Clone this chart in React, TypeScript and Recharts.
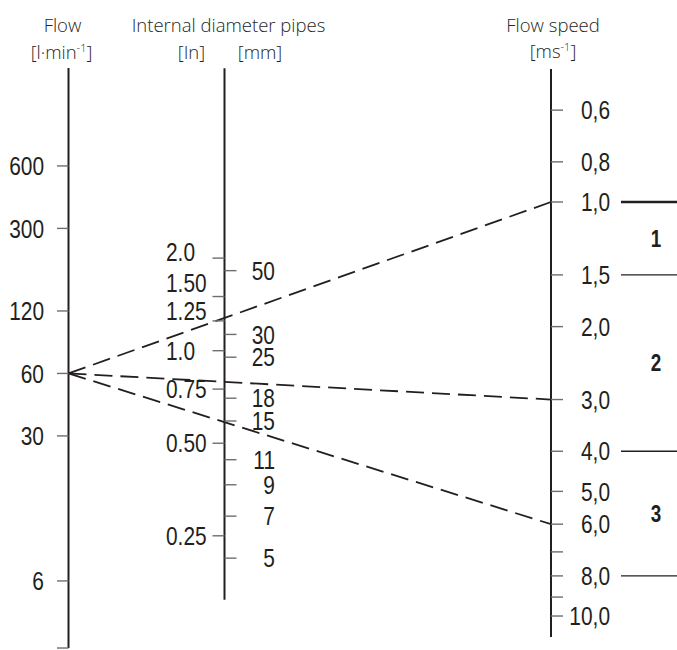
import React, { useCallback, useLayoutEffect, useState } from 'react';
import { ComposedChart, XAxis, YAxis, Scatter, ReferenceLine, Customized } from 'recharts';

// ---------------- data ----------------
const flowTicks = [600, 300, 120, 60, 30, 6];
const flowAxisEnds = [2.85, 1780];
const inchTicks = [2.0, 1.5, 1.25, 1.0, 0.75, 0.5, 0.25];
const inchLabels = ['2.0', '1.50', '1.25', '1.0', '0.75', '0.50', '0.25'];
const mmTicks = [50, 30, 25, 18, 15, 11, 9, 7, 5];
const mmLabels = ['50', '30', '25', '18', '15', '11', '9', '7', '5'];
const pipeAxisEndsMm = [3.58, 253];
const speedTicks = [0.6, 0.8, 1.0, 1.5, 2.0, 3.0, 4.0, 5.0, 6.0, 7.0, 8.0, 9.0, 10.0];
const speedLabels = ['0,6', '0,8', '1,0', '1,5', '2,0', '3,0', '4,0', '5,0', '6,0', '', '8,0', '', '10,0'];
const speedAxisEnds = [0.477, 11.24];
const zoneBounds = [1.0, 1.5, 4.0, 8.0];
const zoneNames = ['1', '2', '3'];
const exampleFlow = 60;
const exampleSpeeds = [1.0, 3.0, 6.0];

// ---------------- layout / style ----------------
const W = 677;
const H = 650;
const COL = { flow: 68.5, pipe: 224.5, speed: 551, zoneStart: 621, zoneEnd: 677, zoneLabel: 656 };
const DOMAIN = {
  flow: [2.788, 3783],
  inch: [0.1063, 13.82],
  mm: [2.396, 436.9],
  speed: [0.3252, 12.08],
};
const INK = '#231f20';
const TICK = '#6d6e71';
const NUM_FONT = '"Liberation Sans", Arimo, Arial, sans-serif';
const NARROW = 0.82;
const HEAD_FONT = '"Open Sans", "Noto Sans", sans-serif';
const NUM_SIZE = 25.5;
const INCH_NUDGE: Record<string, number> = { '2.0': -6, '1.50': -14, '1.25': -10 };
const ZONE_WIDTH = [2.6, 1.4, 1.4, 1.4];

type Pt = { x: number; y: number };

function NumText({
  x,
  y,
  anchor,
  size,
  bold,
  children,
}: {
  x: number;
  y: number;
  anchor: 'start' | 'middle' | 'end';
  size: number;
  bold?: boolean;
  children: React.ReactNode;
}) {
  return (
    <text
      transform={`translate(${x} ${y}) scale(${NARROW} 1)`}
      x={0}
      y={0}
      dy={size * 0.36}
      textAnchor={anchor}
      fontFamily={NUM_FONT}
      fontWeight={bold ? 700 : 400}
      fontSize={size}
      fill={INK}
    >
      {children}
    </text>
  );
}

const tickShape =
  (side: 'left' | 'right', len: number, labelDx: number, anchor: 'start' | 'end', nudge?: Record<string, number>) =>
  (p: any) => {
    const { cx, cy, payload } = p;
    const x2 = side === 'left' ? cx - len : cx + len;
    const ny = (nudge && nudge[payload.label]) || 0;
    return (
      <g>
        <line x1={cx} x2={x2} y1={cy} y2={cy} stroke={TICK} strokeWidth={1.4} />
        {payload.label ? (
          <NumText x={cx + labelDx} y={cy + ny} anchor={anchor} size={NUM_SIZE}>
            {payload.label}
          </NumText>
        ) : null}
      </g>
    );
  };

function Anchor({ id, cx, cy, onPlace }: { id: string; cx: number; cy: number; onPlace: (id: string, x: number, y: number) => void }) {
  useLayoutEffect(() => {
    if (Number.isFinite(cx) && Number.isFinite(cy)) onPlace(id, cx, cy);
  }, [id, cx, cy, onPlace]);
  return <g />;
}

function Head({ x, y, children }: { x: number; y: number; children: React.ReactNode }) {
  return (
    <text x={x} y={y} textAnchor="middle" fontFamily={HEAD_FONT} fontWeight={300} fontSize={18.5} fill="#262626">
      {children}
    </text>
  );
}

export default function App() {
  const [anchors, setAnchors] = useState<Record<string, Pt>>({});
  const place = useCallback((id: string, x: number, y: number) => {
    setAnchors((prev) => (prev[id] && prev[id].x === x && prev[id].y === y ? prev : { ...prev, [id]: { x, y } }));
  }, []);

  const flowData = [
    ...flowTicks.map((v) => ({ x: COL.flow, y: v, label: String(v) })),
    { x: COL.flow, y: flowAxisEnds[0], label: '' },
  ];
  const inchData = inchTicks.map((v, i) => ({ x: COL.pipe, y: v, label: inchLabels[i] }));
  const mmData = mmTicks.map((v, i) => ({ x: COL.pipe, y: v, label: mmLabels[i] }));
  const speedData = speedTicks.map((v, i) => ({ x: COL.speed, y: v, label: speedLabels[i] }));
  const zoneLabelData = zoneNames.map((n, i) => ({
    x: COL.zoneLabel,
    y: Math.sqrt(zoneBounds[i] * zoneBounds[i + 1]),
    label: n,
  }));
  const flowAnchor = [{ x: COL.flow, y: exampleFlow, id: 'q' }];
  const speedAnchors = exampleSpeeds.map((v, i) => ({ x: COL.speed, y: v, id: 'v' + i }));

  const anchorShape = (p: any) => <Anchor id={p.payload.id} cx={p.cx} cy={p.cy} onPlace={place} />;

  const overlay = () => {
    const q = anchors['q'];
    return (
      <g>
        <Head x={62.5} y={31.5}>Flow</Head>
        <Head x={61.5} y={59}>
          [l·min<tspan fontSize={11} dy={-7}>-1</tspan>
          <tspan dy={7}>]</tspan>
        </Head>
        <Head x={228.5} y={31.5}>Internal diameter pipes</Head>
        <Head x={191.5} y={59}>[In]</Head>
        <Head x={260} y={59}>[mm]</Head>
        <Head x={553} y={31.5}>Flow speed</Head>
        <Head x={553} y={57.5}>
          [ms<tspan fontSize={11} dy={-7}>-1</tspan>
          <tspan dy={7}>]</tspan>
        </Head>
        {q
          ? exampleSpeeds.map((_, i) => {
              const v = anchors['v' + i];
              if (!v) return null;
              return (
                <line
                  key={i}
                  x1={q.x}
                  y1={q.y}
                  x2={v.x}
                  y2={v.y}
                  stroke={INK}
                  strokeWidth={1.8}
                  strokeDasharray="18 8"
                />
              );
            })
          : null}
      </g>
    );
  };

  return (
    <div style={{ position: 'absolute', left: 0, top: 0, width: W, height: H, background: '#fff' }}>
      <ComposedChart width={W} height={H} margin={{ top: 0, right: 0, bottom: 0, left: 0 }}>
        <XAxis type="number" dataKey="x" domain={[0, W]} allowDataOverflow hide />
        <YAxis yAxisId="flow" type="number" dataKey="y" scale="log" domain={DOMAIN.flow} allowDataOverflow hide />
        <YAxis yAxisId="inch" type="number" dataKey="y" scale="log" domain={DOMAIN.inch} allowDataOverflow hide />
        <YAxis yAxisId="mm" type="number" dataKey="y" scale="log" domain={DOMAIN.mm} allowDataOverflow hide />
        <YAxis yAxisId="speed" type="number" dataKey="y" scale="log" domain={DOMAIN.speed} reversed allowDataOverflow hide />

        <ReferenceLine
          yAxisId="flow"
          segment={[{ x: COL.flow, y: flowAxisEnds[0] }, { x: COL.flow, y: flowAxisEnds[1] }]}
          stroke={INK}
          strokeWidth={2}
          ifOverflow="visible"
        />
        <ReferenceLine
          yAxisId="mm"
          segment={[{ x: COL.pipe, y: pipeAxisEndsMm[0] }, { x: COL.pipe, y: pipeAxisEndsMm[1] }]}
          stroke={INK}
          strokeWidth={2}
          ifOverflow="visible"
        />
        <ReferenceLine
          yAxisId="speed"
          segment={[{ x: COL.speed, y: speedAxisEnds[0] }, { x: COL.speed, y: speedAxisEnds[1] }]}
          stroke={INK}
          strokeWidth={2}
          ifOverflow="visible"
        />
        {zoneBounds.map((b, i) => (
          <ReferenceLine
            key={'z' + i}
            yAxisId="speed"
            segment={[{ x: COL.zoneStart, y: b }, { x: COL.zoneEnd, y: b }]}
            stroke={INK}
            strokeWidth={ZONE_WIDTH[i]}
            ifOverflow="visible"
          />
        ))}

        <Scatter yAxisId="flow" data={flowData} shape={tickShape('left', 11.5, -24.5, 'end')} isAnimationActive={false} />
        <Scatter yAxisId="inch" data={inchData} shape={tickShape('left', 12, -58.5, 'start', INCH_NUDGE)} isAnimationActive={false} />
        <Scatter yAxisId="mm" data={mmData} shape={tickShape('right', 12, 50.5, 'end')} isAnimationActive={false} />
        <Scatter yAxisId="speed" data={speedData} shape={tickShape('right', 12, 59, 'end')} isAnimationActive={false} />
        <Scatter
          yAxisId="speed"
          data={zoneLabelData}
          shape={(p: any) => (
            <NumText x={p.cx} y={p.cy} anchor="middle" size={23} bold>
              {p.payload.label}
            </NumText>
          )}
          isAnimationActive={false}
        />
        <Scatter yAxisId="flow" data={flowAnchor} shape={anchorShape} isAnimationActive={false} />
        <Scatter yAxisId="speed" data={speedAnchors} shape={anchorShape} isAnimationActive={false} />
        <Customized component={overlay} />
      </ComposedChart>
    </div>
  );
}
